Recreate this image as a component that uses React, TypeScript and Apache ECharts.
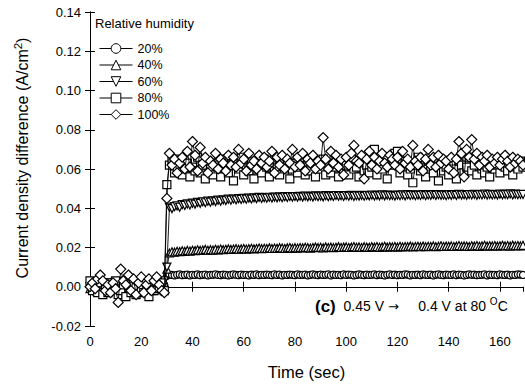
import React, { useEffect, useRef } from "react";
import * as echarts from "echarts";

const FONT = "'Liberation Sans', Arial, Helvetica, sans-serif";

// Sample times (s): one reading per second from 0 to 169 s
const START_TIME = 0;
const SAMPLE_COUNT = 170;
const time: number[] = Array.from({ length: SAMPLE_COUNT }, (_, i) => START_TIME + i);

const seriesNames = ["20%", "40%", "60%", "80%", "100%"];

const rh20 = [
  0.001, -0.001, 0.0, 0.002, -0.002, 0.001, 0.0, -0.001, 0.002, 0.0,
  -0.002, 0.001, 0.003, 0.0, -0.001, 0.002, -0.001, 0.0, 0.001, -0.002,
  0.0, 0.002, -0.001, 0.001, 0.0, -0.002, 0.001, 0.002, 0.0, 0.001,
  0.0055, 0.0062, 0.006, 0.0058, 0.0061, 0.0063, 0.0059, 0.006, 0.0062, 0.0058,
  0.0061, 0.006, 0.0063, 0.0059, 0.0061, 0.0062, 0.0058, 0.006, 0.0061, 0.0063,
  0.006, 0.0059, 0.0062, 0.0061, 0.0058, 0.006, 0.0063, 0.0061, 0.0059, 0.0062,
  0.006, 0.0061, 0.0058, 0.0062, 0.006, 0.0063, 0.0059, 0.0061, 0.006, 0.0062,
  0.0061, 0.0059, 0.0063, 0.006, 0.0062, 0.0058, 0.0061, 0.006, 0.0062, 0.0061,
  0.0059, 0.0063, 0.006, 0.0061, 0.0062, 0.0058, 0.006, 0.0063, 0.0061, 0.0059,
  0.0062, 0.006, 0.0061, 0.0063, 0.0058, 0.0062, 0.006, 0.0061, 0.0059, 0.0063,
  0.006, 0.0062, 0.0061, 0.0058, 0.006, 0.0063, 0.0061, 0.0059, 0.0062, 0.006,
  0.0061, 0.0063, 0.0059, 0.0062, 0.006, 0.0058, 0.0061, 0.0063, 0.006, 0.0062,
  0.0059, 0.0061, 0.006, 0.0063, 0.0062, 0.0058, 0.0061, 0.006, 0.0062, 0.0059,
  0.0063, 0.0061, 0.006, 0.0062, 0.0058, 0.0061, 0.0063, 0.006, 0.0059, 0.0062,
  0.0061, 0.006, 0.0063, 0.0059, 0.0062, 0.0061, 0.0058, 0.006, 0.0063, 0.0061,
  0.0062, 0.0059, 0.006, 0.0061, 0.0063, 0.0058, 0.0062, 0.006, 0.0061, 0.0059,
  0.0063, 0.0061, 0.006, 0.0062, 0.0058, 0.0061, 0.006, 0.0063, 0.0062, 0.006,
];

const rh40 = [
  -0.001, 0.002, 0.0, -0.002, 0.001, 0.003, -0.001, 0.0, 0.002, -0.002,
  0.001, 0.0, -0.001, 0.002, 0.001, -0.002, 0.0, 0.003, -0.001, 0.001,
  0.002, -0.001, 0.0, 0.001, -0.002, 0.002, 0.0, -0.001, 0.001, 0.002,
  0.009, 0.0172, 0.0178, 0.0176, 0.0181, 0.0179, 0.0183, 0.018, 0.0185, 0.0182,
  0.0186, 0.0184, 0.0188, 0.0185, 0.0187, 0.019, 0.0186, 0.0189, 0.0187, 0.0191,
  0.0188, 0.0192, 0.0189, 0.0191, 0.0193, 0.019, 0.0192, 0.0194, 0.0191, 0.0193,
  0.0195, 0.0192, 0.0194, 0.0196, 0.0193, 0.0195, 0.0197, 0.0194, 0.0196, 0.0195,
  0.0198, 0.0195, 0.0197, 0.0196, 0.0199, 0.0197, 0.0195, 0.0198, 0.02, 0.0196,
  0.0199, 0.0197, 0.02, 0.0198, 0.0201, 0.0199, 0.0197, 0.02, 0.0202, 0.0199,
  0.0201, 0.0198, 0.0203, 0.02, 0.0202, 0.0199, 0.0201, 0.0204, 0.02, 0.0202,
  0.0203, 0.02, 0.0202, 0.0205, 0.0201, 0.0203, 0.02, 0.0204, 0.0202, 0.0201,
  0.0204, 0.0202, 0.0205, 0.0201, 0.0203, 0.0206, 0.0202, 0.0204, 0.0203, 0.0205,
  0.0202, 0.0206, 0.0203, 0.0205, 0.0204, 0.0207, 0.0203, 0.0205, 0.0206, 0.0204,
  0.0207, 0.0204, 0.0206, 0.0205, 0.0208, 0.0204, 0.0206, 0.0209, 0.0205, 0.0207,
  0.0206, 0.0208, 0.0205, 0.0207, 0.021, 0.0206, 0.0208, 0.0207, 0.0205, 0.0209,
  0.0207, 0.021, 0.0206, 0.0208, 0.0211, 0.0207, 0.0209, 0.0208, 0.021, 0.0207,
  0.0209, 0.0211, 0.0208, 0.021, 0.0207, 0.0212, 0.0209, 0.021, 0.0208, 0.0211,
];

const rh60 = [
  0.0, -0.002, 0.001, 0.002, -0.001, 0.0, 0.002, -0.002, 0.001, -0.001,
  0.002, 0.0, -0.001, 0.001, 0.003, -0.002, 0.001, 0.0, -0.001, 0.002,
  -0.001, 0.001, 0.002, -0.002, 0.0, 0.001, -0.001, 0.002, 0.0, 0.003,
  0.01, 0.0405, 0.0398, 0.0408, 0.0412, 0.0405, 0.0418, 0.0414, 0.0422, 0.0417,
  0.0426, 0.0421, 0.043, 0.0425, 0.0433, 0.0428, 0.0436, 0.0431, 0.0438, 0.0434,
  0.0441, 0.0436, 0.0443, 0.0439, 0.0446, 0.0441, 0.0447, 0.0443, 0.0449, 0.0445,
  0.045, 0.0446, 0.0452, 0.0447, 0.0453, 0.0449, 0.0455, 0.045, 0.0454, 0.0451,
  0.0456, 0.0452, 0.0457, 0.0453, 0.0458, 0.0454, 0.0459, 0.0455, 0.046, 0.0456,
  0.046, 0.0456, 0.0461, 0.0457, 0.0462, 0.0458, 0.0461, 0.0457, 0.0463, 0.0459,
  0.0462, 0.0458, 0.0464, 0.0459, 0.0463, 0.046, 0.0465, 0.0461, 0.0464, 0.046,
  0.0465, 0.0461, 0.0466, 0.046, 0.0464, 0.0462, 0.0466, 0.0461, 0.0465, 0.0463,
  0.0467, 0.0462, 0.0466, 0.0463, 0.0468, 0.0463, 0.0467, 0.0464, 0.0466, 0.0462,
  0.0467, 0.0464, 0.0468, 0.0463, 0.0469, 0.0465, 0.0468, 0.0464, 0.0467, 0.0465,
  0.0469, 0.0464, 0.0468, 0.0466, 0.047, 0.0465, 0.0469, 0.0466, 0.0468, 0.0464,
  0.0469, 0.0466, 0.047, 0.0465, 0.0471, 0.0467, 0.0469, 0.0466, 0.047, 0.0468,
  0.0471, 0.0466, 0.047, 0.0468, 0.0472, 0.0467, 0.0471, 0.0468, 0.047, 0.0467,
  0.0472, 0.0468, 0.0471, 0.0469, 0.0473, 0.0468, 0.0472, 0.0469, 0.0471, 0.047,
];

const rh80 = [
  0.003, -0.002, 0.001, -0.003, 0.002, -0.004, 0.0, -0.003, 0.002, -0.001,
  0.003, -0.004, -0.002, 0.001, -0.005, 0.002, -0.003, 0.0, -0.004, 0.003,
  -0.001, -0.003, 0.002, -0.005, 0.001, -0.002, 0.003, -0.001, 0.002, -0.002,
  0.052, 0.062, 0.064, 0.058, 0.061, 0.065, 0.057, 0.06, 0.063, 0.056,
  0.061, 0.059, 0.066, 0.058, 0.062, 0.055, 0.064, 0.06, 0.057, 0.063,
  0.06, 0.056, 0.065, 0.061, 0.058, 0.062, 0.054, 0.063, 0.06, 0.066,
  0.057, 0.061, 0.059, 0.064, 0.055, 0.062, 0.06, 0.058, 0.065, 0.061,
  0.056, 0.063, 0.059, 0.061, 0.057, 0.064, 0.06, 0.062, 0.055, 0.06,
  0.063, 0.058, 0.061, 0.066, 0.057, 0.062, 0.059, 0.064, 0.056, 0.061,
  0.06, 0.065, 0.057, 0.062, 0.058, 0.061, 0.064, 0.056, 0.063, 0.059,
  0.062, 0.057, 0.065, 0.06, 0.061, 0.056, 0.064, 0.059, 0.062, 0.058,
  0.061, 0.07, 0.057, 0.063, 0.06, 0.066, 0.055, 0.062, 0.064, 0.068,
  0.069, 0.058, 0.061, 0.064, 0.057, 0.06, 0.053, 0.062, 0.066, 0.059,
  0.061, 0.056, 0.064, 0.06, 0.058, 0.065, 0.054, 0.062, 0.059, 0.061,
  0.057, 0.063, 0.06, 0.055, 0.064, 0.062, 0.058, 0.061, 0.066, 0.059,
  0.062, 0.057, 0.064, 0.06, 0.058, 0.061, 0.056, 0.063, 0.06, 0.062,
  0.058, 0.064, 0.061, 0.059, 0.063, 0.057, 0.062, 0.06, 0.064, 0.061,
];

const rh100 = [
  0.0, 0.002, -0.001, 0.004, 0.006, 0.003, -0.002, 0.001, -0.003, 0.002,
  -0.001, -0.008, 0.009, 0.003, 0.001, 0.006, -0.002, 0.004, -0.004, 0.002,
  0.005, -0.003, 0.001, 0.004, -0.002, 0.003, 0.005, 0.001, -0.002, -0.003,
  0.045, 0.068, 0.062, 0.065, 0.058, 0.063, 0.066, 0.06, 0.069, 0.061,
  0.074, 0.067, 0.059, 0.071, 0.063, 0.066, 0.058, 0.064, 0.062, 0.068,
  0.06, 0.065, 0.063, 0.059, 0.067, 0.062, 0.066, 0.061, 0.07, 0.063,
  0.065, 0.059, 0.068, 0.062, 0.064, 0.06, 0.067, 0.063, 0.066, 0.061,
  0.064, 0.069, 0.058, 0.066, 0.062, 0.067, 0.06, 0.065, 0.063, 0.07,
  0.061, 0.066, 0.062, 0.068, 0.059, 0.065, 0.063, 0.067, 0.06, 0.064,
  0.062, 0.076, 0.065, 0.06, 0.069, 0.063, 0.067, 0.061, 0.065, 0.057,
  0.066, 0.062, 0.068, 0.072, 0.064, 0.063, 0.067, 0.055, 0.065, 0.069,
  0.062, 0.066, 0.06, 0.064, 0.068, 0.063, 0.061, 0.067, 0.065, 0.062,
  0.066, 0.06, 0.069, 0.063, 0.065, 0.061, 0.072, 0.064, 0.062, 0.066,
  0.059, 0.065, 0.07, 0.062, 0.066, 0.061, 0.067, 0.063, 0.065, 0.064,
  0.06, 0.066, 0.058, 0.065, 0.074, 0.068, 0.056, 0.07, 0.066, 0.075,
  0.065, 0.068, 0.062, 0.066, 0.064, 0.067, 0.061, 0.065, 0.063, 0.066,
  0.062, 0.065, 0.067, 0.064, 0.061, 0.066, 0.063, 0.065, 0.064, 0.062,
];

const seriesValues = [rh20, rh40, rh60, rh80, rh100];
const seriesSymbols = ["circle", "triangle", "triangle", "rect", "diamond"];
const seriesSymbolRotate = [0, 0, 180, 0, 0];
const seriesSymbolSize = [7, 8, 8, 8, 10];

const X_MIN = 0;
const X_MAX = 169;
const X_STEP = 20;
const Y_MIN = -0.02;
const Y_MAX = 0.14;
const Y_STEP = 0.02;

export default function App() {
  const ref = useRef<HTMLDivElement>(null);

  useEffect(() => {
    document.body.style.margin = "0";
    if (!ref.current) return;
    const chart = echarts.init(ref.current, undefined, { renderer: "svg" });

    const black = "#000";
    const tickLabel = { color: black, fontSize: 13, fontFamily: FONT };

    const series = seriesNames.map((name, k) => ({
      name,
      type: "line",
      data: time.map((t, i) => [t, seriesValues[k][i]]),
      symbol: seriesSymbols[k],
      symbolRotate: seriesSymbolRotate[k],
      symbolSize: seriesSymbolSize[k],
      showSymbol: true,
      lineStyle: { color: black, width: 0.9 },
      itemStyle: { color: "#fff", borderColor: black, borderWidth: 1.2 },
      emphasis: { disabled: true },
      silent: true,
      z: 2 + k,
    }));

    const option: any = {
      animation: false,
      backgroundColor: "#fff",
      grid: { left: 90, right: 2, top: 12, bottom: 58, containLabel: false },
      legend: {
        data: seriesNames,
        orient: "vertical",
        left: 99,
        top: 42,
        padding: 0,
        itemWidth: 33,
        itemHeight: 12,
        itemGap: 3.5,
        selectedMode: false,
        itemStyle: { borderWidth: 1, borderColor: black, color: "#fff" },
        lineStyle: { width: 1, color: black },
        textStyle: { color: black, fontSize: 12.5, fontFamily: FONT, lineHeight: 12 },
      },
      xAxis: [
        {
          type: "value",
          min: X_MIN,
          max: X_MAX,
          interval: X_STEP,
          axisLine: { lineStyle: { color: black, width: 1 } },
          axisTick: { inside: true, length: 5, lineStyle: { color: black } },
          axisLabel: { ...tickLabel, margin: 9, showMaxLabel: false },
          splitLine: { show: false },
          name: "Time (sec)",
          nameLocation: "middle",
          nameGap: 37,
          nameTextStyle: { color: black, fontSize: 16.5, fontFamily: FONT },
        },
        {
          type: "value",
          position: "top",
          min: X_MIN,
          max: X_MAX,
          interval: X_STEP,
          axisLine: { show: true, lineStyle: { color: black, width: 1 } },
          axisTick: { show: true, inside: true, length: 5, lineStyle: { color: black } },
          axisLabel: { show: false },
          splitLine: { show: false },
        },
      ],
      yAxis: [
        {
          type: "value",
          min: Y_MIN,
          max: Y_MAX,
          interval: Y_STEP,
          axisLine: { show: true, lineStyle: { color: black, width: 1 } },
          axisTick: { show: true, inside: true, length: 5, lineStyle: { color: black } },
          axisLabel: { ...tickLabel, margin: 9, formatter: (v: number) => v.toFixed(2) },
          splitLine: { show: false },
        },
        {
          type: "value",
          position: "right",
          min: Y_MIN,
          max: Y_MAX,
          interval: Y_STEP,
          axisLine: { show: true, lineStyle: { color: black, width: 1 } },
          axisTick: { show: true, inside: true, length: 5, lineStyle: { color: black } },
          axisLabel: { show: false },
          splitLine: { show: false },
        },
      ],
      graphic: [
        {
          type: "text",
          x: 22,
          y: 158,
          rotation: Math.PI / 2,
          style: {
            text: "{a|Current density difference (A/cm}{s|2}{a|)}",
            align: "center",
            verticalAlign: "middle",
            fill: black,
            rich: {
              a: { fontSize: 16, fontFamily: FONT, fill: black, lineHeight: 21 },
              s: { fontSize: 11.5, fontFamily: FONT, fill: black, lineHeight: 11, verticalAlign: "top" },
            },
          },
          z: 10,
        },
        {
          type: "text",
          left: 95,
          top: 17,
          style: { text: "Relative humidity", fill: black, fontSize: 13, fontFamily: FONT },
          z: 10,
        },
        {
          type: "text",
          left: 315,
          top: 296,
          style: {
            text: "{c|(c)}{n|  0.45 V }{r|\u2192}{n|     0.4 V at 80 }{o|O}{n|C}",
            fill: black,
            rich: {
              c: { fontSize: 17, fontWeight: "bold", fontFamily: FONT, fill: black, lineHeight: 20 },
              n: { fontSize: 14, fontFamily: FONT, fill: black, lineHeight: 20 },
              r: { fontSize: 13, fontFamily: "'DejaVu Sans', sans-serif", fill: black, lineHeight: 20 },
              o: { fontSize: 10, fontFamily: FONT, fill: black, lineHeight: 10, verticalAlign: "top" },
            },
          },
          z: 10,
        },
      ],
      series,
    };

    chart.setOption(option);
    return () => chart.dispose();
  }, []);

  return <div ref={ref} style={{ width: 525, height: 385 }} />;
}
